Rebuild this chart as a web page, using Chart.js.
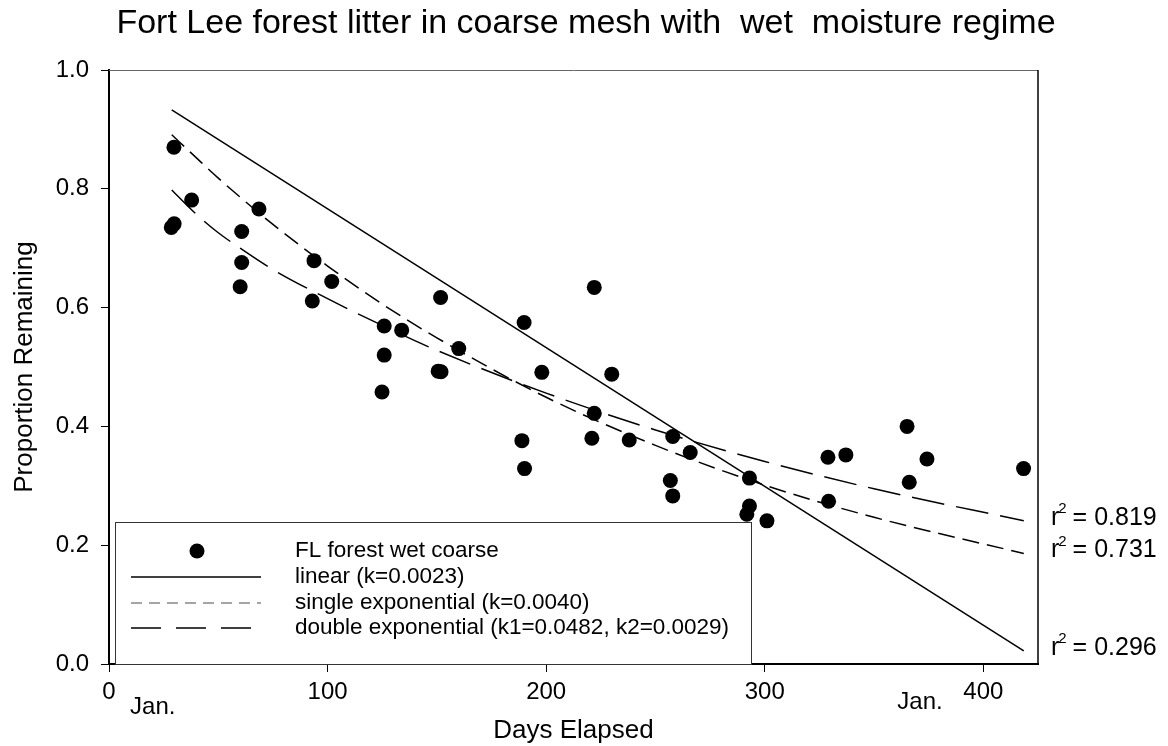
<!DOCTYPE html>
<html>
<head>
<meta charset="utf-8">
<script src="https://cdn.jsdelivr.net/npm/chart.js@4.4.1/dist/chart.umd.min.js"></script>
<style>
  html, body { margin: 0; padding: 0; background: #fff; }
</style>
</head>
<body>
<canvas id="decayChart" width="1168" height="746"></canvas>
<script>
// observed litter (days elapsed, proportion remaining)
var days = [28.5, 29.8, 29.7, 37.8, 60.7, 60.7, 60.0, 68.6, 93.8, 93.0, 101.9,
            125.9, 133.9, 125.9, 124.9, 151.7, 160.0, 150.6, 151.9,
            189.9, 188.9, 190.1, 198.0, 222.0, 222.0, 220.9, 230.0, 238.0,
            257.9, 256.8, 257.9, 265.9, 293.0, 293.0, 291.8, 301.0,
            328.9, 329.2, 337.1, 365.1, 366.1, 374.2, 418.4];
var remaining = [0.735, 0.741, 0.870, 0.781, 0.728, 0.676, 0.635, 0.766, 0.679, 0.611, 0.644,
                 0.569, 0.562, 0.520, 0.458, 0.617, 0.531, 0.493, 0.492,
                 0.575, 0.376, 0.329, 0.491, 0.634, 0.422, 0.380, 0.488, 0.377,
                 0.383, 0.309, 0.283, 0.356, 0.313, 0.266, 0.252, 0.241,
                 0.348, 0.274, 0.352, 0.400, 0.306, 0.345, 0.329];

// fitted curves
var linearDays = [28.7, 418.5];
var linearFit = [0.933, 0.022];
var fitDays = [28.7, 40, 50, 60, 75, 100, 125, 150, 200, 250, 300, 350, 418.5];
var singleFit = [0.891, 0.852, 0.818, 0.786, 0.740, 0.670, 0.606, 0.549, 0.449, 0.368, 0.301, 0.247, 0.186];
var doubleFit = [0.798, 0.757, 0.726, 0.700, 0.664, 0.615, 0.570, 0.528, 0.456, 0.394, 0.341, 0.295, 0.241];

var seriesLabels = ['FL forest wet coarse', 'linear (k=0.0023)',
                    'single exponential (k=0.0040)', 'double exponential (k1=0.0482, k2=0.0029)'];
var rSquared = ['', '0.296', '0.731', '0.819'];
var xTicks = [0, 100, 200, 300, 400];
var yTicks = [0, 0.2, 0.4, 0.6, 0.8, 1.0];
var janDays = [20, 371];
var chartTitle = 'Fort Lee forest litter in coarse mesh with  wet  moisture regime';

var FONT = "'Liberation Sans', Arial, sans-serif";
Chart.defaults.font.family = FONT;
Chart.defaults.color = '#000';

function pairs(xs, ys) {
    return xs.map(function (x, i) { return { x: x, y: ys[i] }; });
}

// box round the plot (top + right) and the heading
var frame = {
    id: 'frame',
    afterDraw: function (chart) {
        var a = chart.chartArea, c = chart.ctx;
        c.save();
        c.strokeStyle = '#666';
        c.lineWidth = 1;
        c.beginPath();
        c.moveTo(a.left, a.top + 0.5);
        c.lineTo(a.right, a.top + 0.5);
        c.stroke();
        c.strokeStyle = '#000';
        c.lineWidth = 1.5;
        c.beginPath();
        c.moveTo(a.right, a.top);
        c.lineTo(a.right, a.bottom);
        c.stroke();

        c.fillStyle = '#000';
        c.font = '34px ' + FONT;
        c.textAlign = 'center';
        c.textBaseline = 'middle';
        c.fillText(chartTitle, 586, 24);
        c.restore();
    }
};

// legend box in lower left + r^2 labels + Jan. labels
var extras = {
    id: 'extras',
    afterDatasetsDraw: function (chart) {
        var c = chart.ctx, a = chart.chartArea;
        var xs = chart.scales.x, ys = chart.scales.y;
        var ds = chart.data.datasets;
        c.save();

        // legend
        var bx = 115, by = 522, bw = 636, bh = a.bottom - 522;
        c.fillStyle = '#fff';
        c.fillRect(bx, by, bw, bh);
        c.strokeStyle = '#333';
        c.lineWidth = 1;
        c.strokeRect(bx + 0.5, by + 0.5, bw, bh);
        var rows = [551, 577, 603, 628];
        c.font = '22.5px ' + FONT;
        c.textBaseline = 'middle';
        c.textAlign = 'left';
        ds.forEach(function (d, i) {
            var y = rows[i];
            if (i === 0) {
                c.fillStyle = '#000';
                c.beginPath();
                c.arc(197, y, 7.5, 0, Math.PI * 2);
                c.fill();
            } else {
                c.strokeStyle = i === 2 ? '#888' : '#000';
                c.lineWidth = 1.3;
                c.setLineDash(i === 2 ? [11, 7] : (i === 3 ? [30, 15] : []));
                c.beginPath();
                c.moveTo(131, y);
                c.lineTo(261, y);
                c.stroke();
                c.setLineDash([]);
            }
            c.fillStyle = '#000';
            c.fillText(d.label, 295, y);
        });

        // r^2 at the end of each fit
        for (var i = 1; i < ds.length; i++) {
            var last = ds[i].data[ds[i].data.length - 1];
            var py = ys.getPixelForValue(last.y) - 3;
            var px = a.right + 13;
            c.font = '25px ' + FONT;
            c.fillText('r', px, py);
            var w = c.measureText('r').width;
            c.font = '15px ' + FONT;
            c.fillText('2', px + w - 1, py - 9);
            var w2 = c.measureText('2').width;
            c.font = '25px ' + FONT;
            c.fillText(' = ' + rSquared[i], px + w + w2 - 2, py);
        }

        // Jan. markers under the axis
        c.font = '24px ' + FONT;
        c.textAlign = 'center';
        c.fillText('Jan.', xs.getPixelForValue(janDays[0]), 707);
        c.fillText('Jan.', xs.getPixelForValue(janDays[1]), 702);
        c.restore();
    }
};

var ctx = document.getElementById('decayChart').getContext('2d');
var myChart = new Chart(ctx, {
    type: 'line',
    data: {
        datasets: [{
            label: seriesLabels[0],
            data: pairs(days, remaining),
            showLine: false,
            pointRadius: 7.5,
            pointBackgroundColor: '#000',
            pointBorderWidth: 0
        }, {
            label: seriesLabels[1],
            data: pairs(linearDays, linearFit),
            borderColor: '#000',
            borderWidth: 1.5,
            pointRadius: 0
        }, {
            label: seriesLabels[2],
            data: pairs(fitDays, singleFit),
            borderColor: '#000',
            borderWidth: 1.5,
            borderDash: [17, 8],
            cubicInterpolationMode: 'monotone',
            pointRadius: 0
        }, {
            label: seriesLabels[3],
            data: pairs(fitDays, doubleFit),
            borderColor: '#000',
            borderWidth: 1.5,
            borderDash: [33, 12],
            cubicInterpolationMode: 'monotone',
            pointRadius: 0
        }]
    },
    options: {
        responsive: false,
        animation: false,
        layout: { autoPadding: false, padding: { left: 0, right: 130, top: 70, bottom: 0 } },
        plugins: {
            legend: { display: false },
            tooltip: { enabled: false },
            title: { display: false }
        },
        scales: {
            x: {
                type: 'linear',
                min: 0,
                max: 425,
                afterFit: function (s) { s.height = 82; },
                afterBuildTicks: function (s) {
                    s.ticks = xTicks.map(function (v) { return { value: v }; });
                },
                ticks: { font: { size: 24 }, color: '#000', padding: 6, maxRotation: 0 },
                grid: { drawOnChartArea: false, drawTicks: true, tickLength: 8, color: '#000' },
                border: { color: '#000', width: 2 },
                title: { display: true, text: 'Days Elapsed', font: { size: 26 }, color: '#000', padding: { top: 0, bottom: 0 } }
            },
            y: {
                min: 0,
                max: 1,
                afterFit: function (s) { s.width = 109; },
                afterBuildTicks: function (s) {
                    s.ticks = yTicks.map(function (v) { return { value: v }; });
                },
                ticks: {
                    font: { size: 24 }, color: '#000', padding: 12,
                    callback: function (v) { return Number(v).toFixed(1); }
                },
                grid: { drawOnChartArea: false, drawTicks: true, tickLength: 8, color: '#000' },
                border: { color: '#000', width: 2 },
                title: { display: true, text: 'Proportion Remaining', font: { size: 26 }, color: '#000', padding: { top: 9, bottom: 0 } }
            }
        }
    },
    plugins: [frame, extras]
});
</script>
</body>
</html>
